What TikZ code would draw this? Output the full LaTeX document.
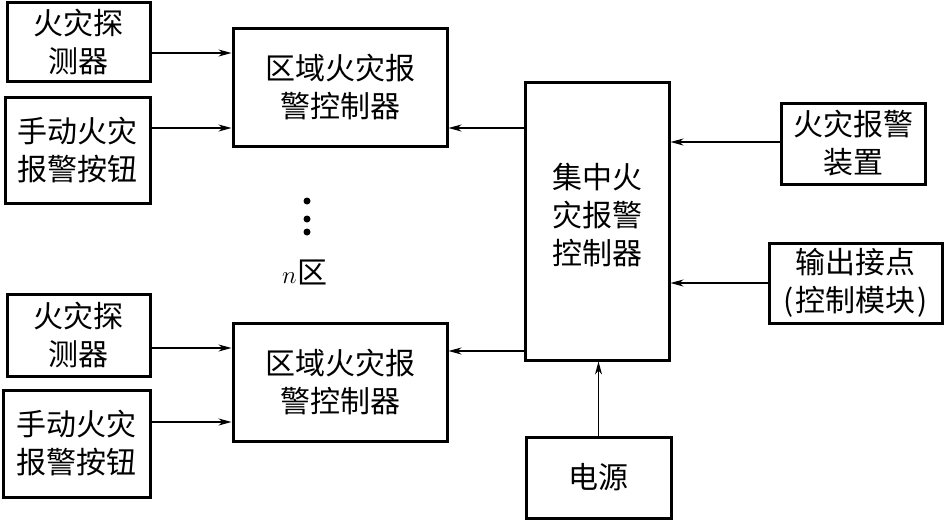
\documentclass[tikz,border=0pt]{standalone}
\usepackage{fontspec}
\newfontfamily\cjk{Noto Sans CJK SC}
\usetikzlibrary{arrows.meta}
\tikzset{
  blk/.style={draw, line width=3pt, rectangle, inner sep=0pt, align=center,
    font=\cjk\fontsize{30}{38}\selectfont},
  arr/.style={line width=1.1pt, -{Stealth[length=13pt,width=7pt,inset=4pt]}}
}
\begin{document}
\begin{tikzpicture}[x=1pt,y=-1pt]
\useasboundingbox[fill=white] (0,0) rectangle (946,520);
\node[blk, minimum width=143pt, minimum height=79pt] (det1) at (78.5,41.5) {火灾探\\测器};
\node[blk, minimum width=145pt, minimum height=106pt] (btn1) at (77.5,150) {手动火灾\\报警按钮};
\node[blk, minimum width=214pt, minimum height=118pt] (reg1) at (340,87) {区域火灾报\\警控制器};
\node[blk, minimum width=144pt, minimum height=278pt, text depth=15pt] (cen) at (597,221) {集中火\\灾报警\\控制器};
\node[blk, minimum width=144pt, minimum height=81pt] (alarm) at (853,143.5) {火灾报警\\装置};
\node[blk, minimum width=173pt, minimum height=80pt] (out) at (855.5,283) {输出接点\\(\hspace{2pt}控制模块\hspace{2pt})};
\node[blk, minimum width=143pt, minimum height=82pt] (det2) at (78.5,335) {火灾探\\测器};
\node[blk, minimum width=147pt, minimum height=107pt] (btn2) at (76.5,443.5) {手动火灾\\报警按钮};
\node[blk, minimum width=214pt, minimum height=118pt] (reg2) at (340,382) {区域火灾报\\警控制器};
\node[blk, minimum width=145pt, minimum height=81pt] (pow) at (598.5,477.5) {电源};
% dots and label
\node[circle, fill, inner sep=0pt, minimum size=7pt] (d1) at (307,201) {};
\node[circle, fill, inner sep=0pt, minimum size=7pt] (d2) at (307,219) {};
\node[circle, fill, inner sep=0pt, minimum size=7pt] (d3) at (307,232) {};
\node[font=\fontsize{30}{34}\selectfont] (nlab) at (305,272) {$n$\hspace{1pt}{\cjk 区}};
% arrows
\draw[arr] (det1.east |- 0,53) -- (reg1.west |- 0,53);
\draw[arr] (btn1.east |- 0,128) -- (reg1.west |- 0,128);
\draw[arr] (cen.west |- 0,128) -- (reg1.east |- 0,128);
\draw[arr] (alarm.west |- 0,142) -- (cen.east |- 0,142);
\draw[arr] (out.west |- 0,283) -- (cen.east |- 0,283);
\draw[arr] (det2.east |- 0,348) -- (reg2.west |- 0,348);
\draw[arr] (btn2.east |- 0,422) -- (reg2.west |- 0,422);
\draw[arr] (cen.west |- 0,351) -- (reg2.east |- 0,351);
\draw[arr] (pow.north) -- (cen.south -| pow.north);
\end{tikzpicture}
\end{document}
